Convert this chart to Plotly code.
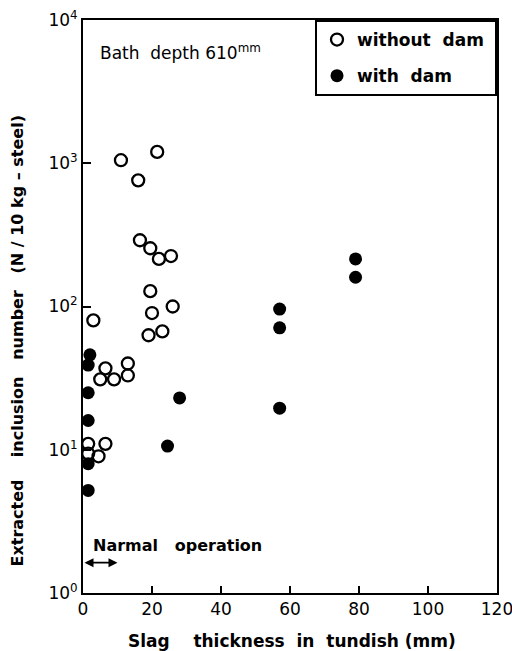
import plotly.graph_objects as go

# Data: slag thickness (mm) vs extracted inclusion number (N / 10 kg-steel)
without_dam_x = [11, 21.5, 16, 16.5, 19.5, 22, 25.5, 19.5, 20, 26, 3, 19, 23,
                 6.5, 13, 13, 5, 9, 1.5, 6.5, 1.5, 4.5]
without_dam_y = [1050, 1200, 760, 290, 255, 215, 225, 128, 90, 100, 80, 63, 67,
                 37, 40, 33, 31, 31, 11, 11, 9.4, 9]

with_dam_x = [2, 1.5, 1.5, 1.5, 1.5, 1.5, 28, 24.5, 57, 57, 57, 79, 79]
with_dam_y = [46, 39, 25, 16, 8, 5.2, 23, 10.6, 19.5, 71, 96, 215, 160]

x_ticks = [0, 20, 40, 60, 80, 100, 120]
y_ticks = [1, 10, 100, 1000, 10000]
y_tick_labels = ["10<sup>0</sup>", "10<sup>1</sup>", "10<sup>2</sup>", "10<sup>3</sup>", "10<sup>4</sup>"]

FONT = "DejaVu Sans"
NB = "\u00a0"

fig = go.Figure()
fig.add_trace(go.Scatter(
    x=without_dam_x, y=without_dam_y, mode="markers", name="without" + NB * 2 + "dam" + NB,
    legendgroup="a",
    marker=dict(symbol="circle-open", size=12, color="black", line=dict(width=2.3, color="black")),
    cliponaxis=False,
))
fig.add_trace(go.Scatter(
    x=with_dam_x, y=with_dam_y, mode="markers", name="with" + NB * 2 + "dam",
    legendgroup="b",
    marker=dict(symbol="circle", size=13, color="black"),
    cliponaxis=False,
))

fig.update_layout(
    width=512, height=651,
    margin=dict(l=83, r=15, t=20, b=58, autoexpand=False),
    paper_bgcolor="white", plot_bgcolor="white",
    font=dict(family=FONT, size=16, color="black"),
    showlegend=True,
    legend=dict(
        x=1, y=1, xanchor="right", yanchor="top",
        bordercolor="black", borderwidth=2, bgcolor="white",
        font=dict(family=FONT, size=17, color="black", weight="bold"),
        itemwidth=30, tracegroupgap=11,
    ),
    xaxis=dict(
        range=[0, 120], tickmode="array", tickvals=x_ticks,
        ticks="inside", ticklen=7, tickwidth=1.5, tickcolor="black",
        showline=True, linewidth=2, linecolor="black", mirror=True,
        showgrid=False, zeroline=False, ticklabeloverflow="allow", automargin=False,
        tickfont=dict(family=FONT, size=17, color="black"),
    ),
    yaxis=dict(
        type="log", range=[0, 4], tickmode="array", tickvals=y_ticks, ticktext=y_tick_labels,
        ticks="inside", ticklen=8, tickwidth=1.5, tickcolor="black",
        showline=True, linewidth=2, linecolor="black", mirror=True,
        showgrid=False, zeroline=False, ticklabeloverflow="allow", automargin=False,
        tickfont=dict(family=FONT, size=17, color="black"),
    ),
)

fig.add_annotation(
    xref="paper", yref="paper", x=0.036, y=0.944, xanchor="left", yanchor="middle",
    text="Bath" + NB * 2 + "depth" + NB + "610<sup>mm</sup>", showarrow=False,
    font=dict(family=FONT, size=17, color="black"),
)
fig.add_annotation(
    xref="x", yref="y", x=2.3, y=0.335, xanchor="left", yanchor="middle",
    text="<b>Narmal" + NB * 3 + "operation</b>", showarrow=False,
    font=dict(family=FONT, size=16, color="black"),
)
# double-headed arrow for normal operation range (0-10 mm)
fig.add_annotation(
    xref="x", yref="y", axref="x", ayref="y",
    x=10, y=0.212, ax=0, ay=0.212, text="", showarrow=True,
    arrowhead=2, startarrowhead=2, arrowside="end+start", arrowsize=1, arrowwidth=1.8,
    arrowcolor="black",
)
fig.add_annotation(
    xref="paper", yref="paper", x=0.505, y=-0.083, xanchor="center", yanchor="middle",
    text="<b>Slag" + NB * 4 + "thickness" + NB * 2 + "in" + NB * 2 + "tundish" + NB + "(mm)</b>",
    showarrow=False, font=dict(family=FONT, size=17, color="black"),
)
fig.add_annotation(
    xref="paper", yref="paper", x=-0.158, y=0.44, xanchor="center", yanchor="middle",
    textangle=-90,
    text="<b>Extracted" + NB * 4 + "inclusion" + NB * 3 + "number" + NB * 3 + "(N" + NB + "/" + NB + "10" + NB + "kg" + NB + "\u2013" + NB + "steel)</b>",
    showarrow=False, font=dict(family=FONT, size=16, color="black"),
)

fig.write_html("out.html")
